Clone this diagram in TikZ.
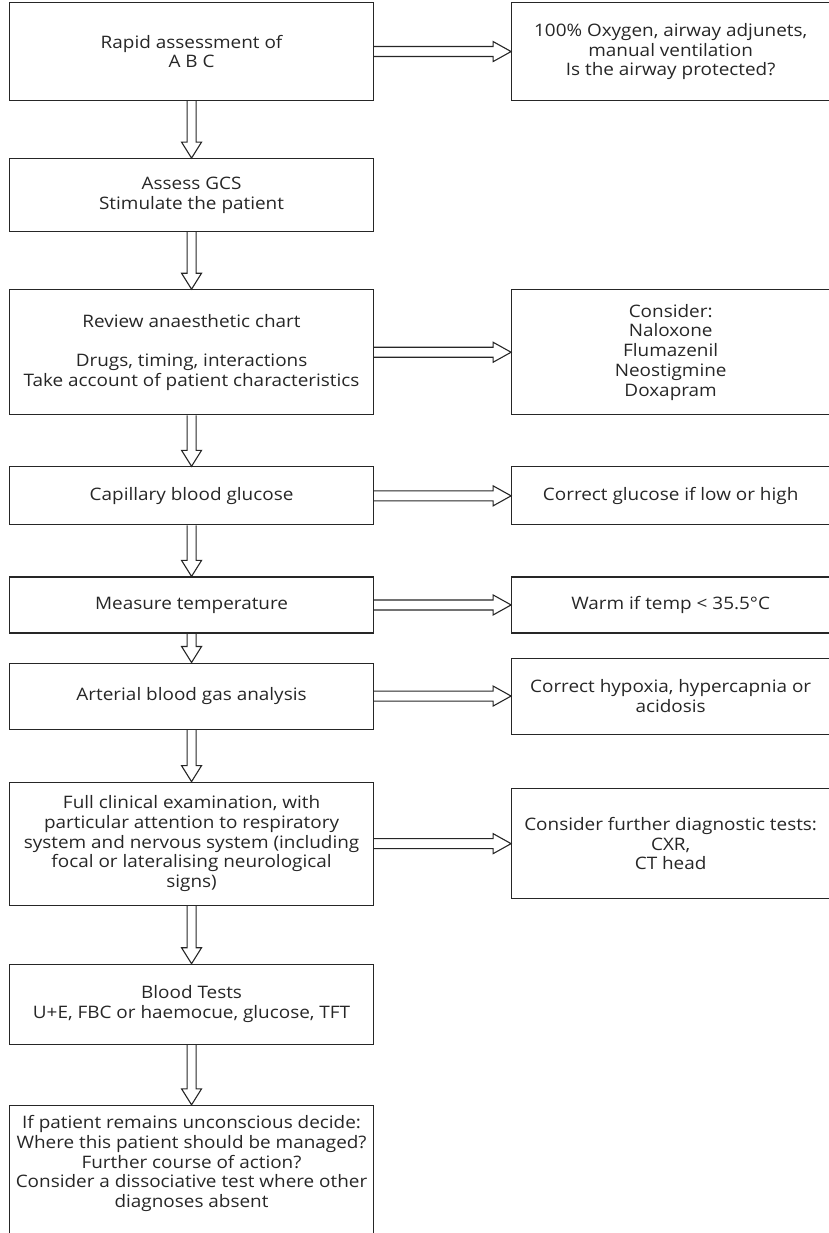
\documentclass[tikz,border=0pt]{standalone}
\usepackage{fontspec}
\setmainfont{Open Sans}[FakeStretch=1.1]
\usetikzlibrary{positioning, calc}

\begin{document}
\begin{tikzpicture}[x=1pt, y=1pt, font=\fontsize{17.2}{19.8}\selectfont, node distance=57pt]
  \tikzset{
    stage/.style={rectangle, draw=black!85, line width=1.1pt, text=black!85, inner xsep=3pt, minimum width=364pt, align=center},
    action/.style={rectangle, draw=black!85, line width=1.1pt, text=black!85, inner xsep=3pt, minimum width=318pt, align=center},
    harrow/.style={draw=black!85, line width=1.1pt, to path={let \p1=(\tikztostart), \p2=(\tikztotarget) in
      (\x1,\y1+5pt) -- (\x2-18pt,\y1+5pt) -- (\x2-18pt,\y1+10pt) -- (\x2,\y1) -- (\x2-18pt,\y1-10pt) -- (\x2-18pt,\y1-5pt) -- (\x1,\y1-5pt)}},
    varrow/.style={draw=black!85, line width=1.1pt, to path={let \p1=(\tikztostart), \p2=(\tikztotarget) in
      (\x1-4.5pt,\y1) -- (\x1-4.5pt,\y2+16pt) -- (\x1-10pt,\y2+16pt) -- (\x1,\y2) -- (\x1+10pt,\y2+16pt) -- (\x1+4.5pt,\y2+16pt) -- (\x1+4.5pt,\y1)}}
  }

  \useasboundingbox (0,0) rectangle (829,-1233);

  \node[stage, minimum height=98pt, anchor=north west] (s1) at (9,-2) {Rapid assessment of\\A B C};
  \node[stage, minimum height=73pt] (s2) [below=of s1] {Assess GCS\\Stimulate the patient};
  \node[stage, minimum height=125pt] (s3) [below=of s2] {Review anaesthetic chart\\[19.8pt]Drugs, timing, interactions\\Take account of patient characteristics};
  \node[stage, minimum height=58pt] (s4) [below=51pt of s3] {Capillary blood glucose};
  \node[stage, minimum height=56pt] (s5) [below=51pt of s4] {Measure temperature};
  \node[stage, minimum height=66pt] (s6) [below=29pt of s5] {Arterial blood gas analysis};
  \node[stage, minimum height=123pt] (s7) [below=52pt of s6] {Full clinical examination, with\\particular attention to respiratory\\system and nervous system (including\\focal or lateralising neurological\\signs)};
  \node[stage, minimum height=80pt] (s8) [below=58pt of s7] {Blood Tests\\U+E, FBC or haemocue, glucose, TFT};
  \node[stage, inner ysep=10pt, text depth=40pt] (s9) [below=60pt of s8] {If patient remains unconscious decide:\\Where this patient should be managed?\\Further course of action?\\Consider a dissociative test where other\\diagnoses absent};

  \node[action, minimum height=98pt] (a1) [right=137pt of s1] {100\% Oxygen, airway adjunets,\\manual ventilation\\Is the airway protected?};
  \node[action, minimum height=125pt] (a3) [right=137pt of s3] {Consider:\\Naloxone\\Flumazenil\\Neostigmine\\Doxapram};
  \node[action, minimum height=58pt] (a4) [right=137pt of s4] {Correct glucose if low or high};
  \node[action, minimum height=56pt] (a5) [right=137pt of s5] {Warm if temp < 35.5°C};
  \node[action, minimum height=76pt] (a6) [right=137pt of s6] {Correct hypoxia, hypercapnia or\\acidosis};
  \node[action, minimum height=110pt] (a7) [right=137pt of s7] {Consider further diagnostic tests:\\CXR,\\CT head};

  \path[varrow] (s1.south) to (s2.north);
  \path[varrow] (s2.south) to (s3.north);
  \path[varrow] (s3.south) to (s4.north);
  \path[varrow] (s4.south) to (s5.north);
  \path[varrow] (s5.south) to (s6.north);
  \path[varrow] (s6.south) to (s7.north);
  \path[varrow] (s7.south) to (s8.north);
  \path[varrow] (s8.south) to (s9.north);

  \path[harrow] (s1.east) to (a1.west);
  \path[harrow] (s3.east) to (a3.west);
  \path[harrow] (s4.east) to (a4.west);
  \path[harrow] (s5.east) to (a5.west);
  \path[harrow] (s6.east) to (a6.west);
  \path[harrow] (s7.east) to (a7.west);

\end{tikzpicture}
\end{document}
